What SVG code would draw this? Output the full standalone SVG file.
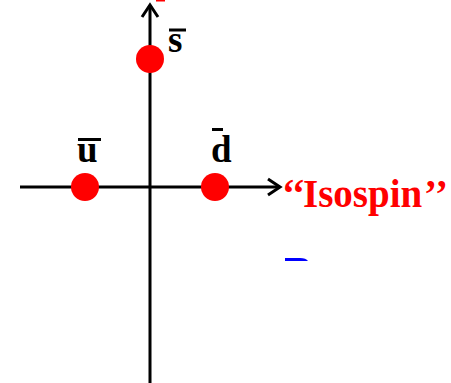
<svg xmlns="http://www.w3.org/2000/svg" width="451" height="383" viewBox="0 0 451 383">
<style>
.ax{stroke:#000;stroke-width:3;fill:none}
.ah{stroke:#000;stroke-width:3;fill:none;stroke-linecap:butt;stroke-linejoin:miter}
.dot{fill:#ff0000}
.lbl{font-family:"Liberation Serif","Times New Roman",serif;font-weight:bold;font-size:37px;fill:#000}
.iso{font-family:"Liberation Serif","Times New Roman",serif;font-weight:bold;font-size:39px;fill:#ff0000}
.bar{stroke:#000;stroke-width:3}
</style>
<rect width="451" height="383" fill="#fff"/>
<g id="connectors">
<line class="ax" x1="150" y1="383" x2="150" y2="5"/>
<polyline class="ah" points="142,17 150,5 158,17"/>
<line class="ax" x1="20" y1="187" x2="280" y2="187"/>
<polyline class="ah" points="268,179 280,187 268,195"/>
</g>
<g id="s-bar">
<circle class="dot" cx="150" cy="59" r="14"/>
<text class="lbl" x="168" y="52">s</text>
<line class="bar" x1="169" y1="30" x2="186" y2="30"/>
</g>
<g id="u-bar">
<circle class="dot" cx="85" cy="187" r="14"/>
<text class="lbl" x="77" y="162">u</text>
<line class="bar" x1="78" y1="139.5" x2="101" y2="139.5"/>
</g>
<g id="d-bar">
<circle class="dot" cx="215" cy="187" r="14"/>
<text class="lbl" x="211" y="162">d</text>
<line class="bar" x1="212" y1="129.5" x2="223" y2="129.5"/>
</g>
<g id="isospin">
<text class="iso" x="282 292 303" y="207">‘‘Isospin<tspan x="424 435">’’</tspan></text>
</g>
<g id="fragments">
<rect x="156" y="0" width="9" height="1.5" fill="#ff0000"/>
<path d="M285,258 L300,258 Q306,258 308,261 L285,261 Z" fill="#0000ff"/>
</g>
</svg>
